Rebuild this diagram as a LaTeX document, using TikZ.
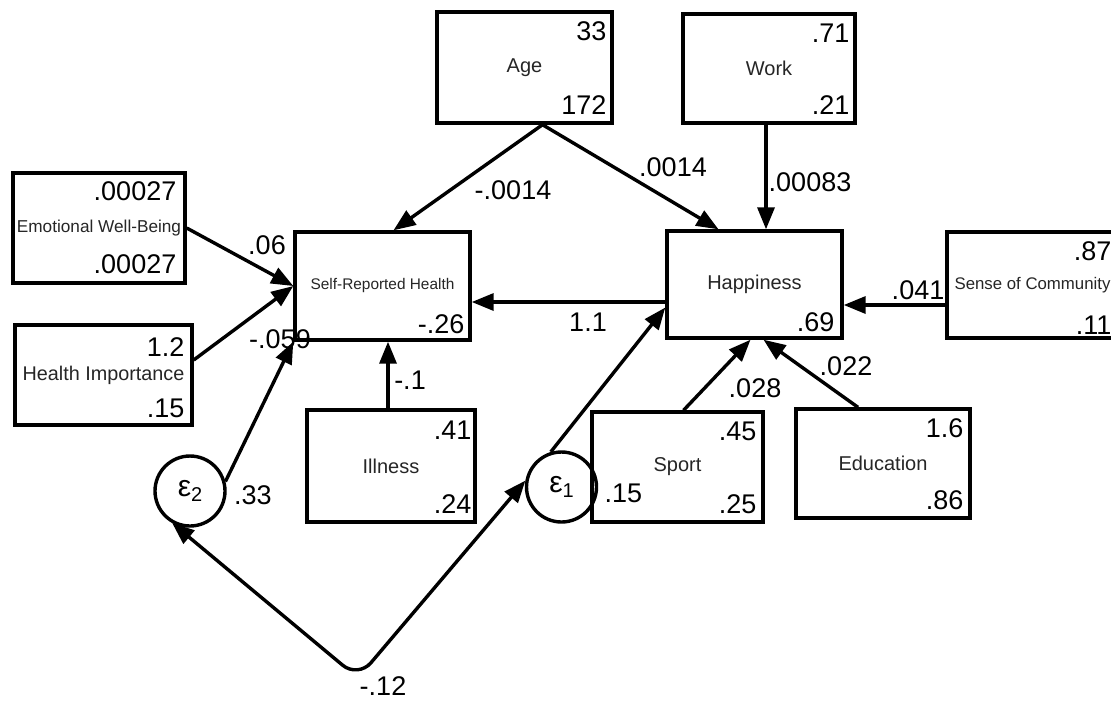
\documentclass[tikz,border=0pt]{standalone}
\usepackage{fontspec}
\setmainfont{Liberation Sans}
\usetikzlibrary{arrows.meta, calc}

\begin{document}
\begin{tikzpicture}[x = 0.5pt, y = -0.5pt,
    box/.style = {draw, rectangle, line width = 1.7pt, inner sep = 0pt, text = black!85, font = \fontsize{10}{12}\selectfont},
    err/.style = {draw, circle, line width = 1.7pt, minimum size = 35pt, inner sep = 0pt, font = \fontsize{15}{17}\selectfont},
    num/.style = {inner sep = 0pt, font = \fontsize{13.5}{16}\selectfont},
    arr/.style = {line width = 1.7pt, -{Triangle[length = 11pt, width = 8.5pt]}},
    both/.style = {line width = 1.7pt, rounded corners = 10pt, {Triangle[length = 11pt, width = 8.5pt]}-{Triangle[length = 11pt, width = 8.5pt]}}]
    \useasboundingbox (0,0) rectangle (1111,702);
    \clip (0,0) rectangle (1111,702);
    \fill[white] (0,0) rectangle (1111,702);

    \node[box, minimum width = 87.5pt, minimum height = 55.5pt] (age) at (524.5,67.5) {Age};
    \node[box, minimum width = 86pt, minimum height = 54.5pt] (work) at (769,68.5) {Work};
    \node[box, minimum width = 86pt, minimum height = 55pt, font = \fontsize{8.6}{10}\selectfont] (ewb) at (99,228) {Emotional Well-Being};
    \node[box, minimum width = 88.5pt, minimum height = 50pt, font = \fontsize{9.9}{12}\selectfont] (himp) at (103.5,375) {Health Importance};
    \node[box, minimum width = 87.5pt, minimum height = 54pt, font = \fontsize{7.7}{9}\selectfont] (srh) at (382.5,286) {Self-Reported Health};
    \node[box, minimum width = 87.5pt, minimum height = 53.5pt] (hap) at (754.5,284.5) {Happiness};
    \node[box, minimum width = 85.5pt, minimum height = 53pt, font = \fontsize{8.4}{10}\selectfont] (soc) at (1032.5,285) {Sense of Community};
    \node[box, minimum width = 84pt, minimum height = 56pt] (ill) at (391,466) {Illness};
    \node[box, minimum width = 85.5pt, minimum height = 55pt] (sport) at (677.5,467) {Sport};
    \node[box, minimum width = 87pt, minimum height = 54.5pt] (edu) at (883,463.5) {Education};
    \node[err] (e2) at (190,491) {ε\raisebox{-0.35ex}{\fontsize{10}{12}\selectfont 2}};
    \node[err] (e1) at (561.5,487) {ε\raisebox{-0.35ex}{\fontsize{10}{12}\selectfont 1}};

    \node[num, anchor = east] (age-m) at ($(age.north east)+(-7,21)$) {33};
    \node[num, anchor = east] (age-v) at ($(age.south east)+(-7,-20)$) {172};
    \node[num, anchor = east] (work-m) at ($(work.north east)+(-7,21)$) {.71};
    \node[num, anchor = east] (work-v) at ($(work.south east)+(-7,-20)$) {.21};
    \node[num, anchor = east] (ewb-m) at ($(ewb.north east)+(-10,20)$) {.00027};
    \node[num, anchor = east] (ewb-v) at ($(ewb.south east)+(-10,-21)$) {.00027};
    \node[num, anchor = east] (himp-m) at ($(himp.north east)+(-9,24)$) {1.2};
    \node[num, anchor = east] (himp-v) at ($(himp.south east)+(-9,-18)$) {.15};
    \node[num, anchor = east] (srh-c) at ($(srh.south east)+(-7,-18)$) {-.26};
    \node[num, anchor = east] (hap-c) at ($(hap.south east)+(-9,-18)$) {.69};
    \node[num, anchor = east] (soc-m) at ($(soc.north east)+(-8,21)$) {.87};
    \node[num, anchor = east] (soc-v) at ($(soc.south east)+(-8,-14)$) {.11};
    \node[num, anchor = east] (ill-m) at ($(ill.north east)+(-5,22)$) {.41};
    \node[num, anchor = east] (ill-v) at ($(ill.south east)+(-5,-20)$) {.24};
    \node[num, anchor = east] (sport-m) at ($(sport.north east)+(-8,21)$) {.45};
    \node[num, anchor = east] (sport-v) at ($(sport.south east)+(-8,-20)$) {.25};
    \node[num, anchor = east] (edu-m) at ($(edu.north east)+(-8,21)$) {1.6};
    \node[num, anchor = east] (edu-v) at ($(edu.south east)+(-8,-20)$) {.86};
    \node[num, anchor = west] (e2-v) at ($(e2.east)+(7,4)$) {.33};
    \node[num, anchor = west] (e1-v) at ($(e1.east)+(6,6)$) {.15};

    \coordinate (a) at ($(age.south)+(18,0)$);
    \coordinate (w) at ($(work.south)+(-3,0)$);
    \coordinate (i) at ($(ill.north)+(-3,0)$);
    \coordinate (h) at ($(hap.west)+(0,17.5)$);
    \coordinate (s) at ($(soc.west)+(0,20)$);
    \coordinate (cov) at (358,678);

    \draw[arr] (a) -- ($(srh.north)+(11,0)$);
    \draw[arr] (a) -- ($(hap.north)+(-36,0)$);
    \draw[arr] (w) -- (w |- hap.north);
    \draw[arr] (ewb.east) -- (srh.west);
    \draw[arr] ($(himp.east)+(0,-15)$) -- (srh.west);
    \draw[arr] (e2.15) -- (srh.south west);
    \draw[arr] (i) -- (i |- srh.south);
    \draw[arr] (h) -- (h -| srh.east);
    \draw[arr] (e1.107) -- ($(hap.west)+(0,23)$);
    \draw[arr] ($(sport.north)+(6,0)$) -- ($(hap.south)+(-4,0)$);
    \draw[arr] ($(edu.north)+(-25,0)$) -- ($(hap.south)+(9,0)$);
    \draw[arr] (s) -- (s -| hap.east);
    \draw[both] (e2.241) -- (cov) -- (e1.170);

    \node[num] (l-age-srh) at (513,190) {-.0014};
    \node[num] (l-age-hap) at (673,167) {.0014};
    \node[num] (l-work) at (810,182) {.00083};
    \node[num] (l-ewb) at (267,245) {.06};
    \node[num] (l-himp) at (280,339) {-.059};
    \node[num] (l-ill) at (410,380) {-.1};
    \node[num] (l-hap) at (588,322) {1.1};
    \node[num] (l-sport) at (755,388) {.028};
    \node[num] (l-edu) at (846,366) {.022};
    \node[num] (l-soc) at (918,290) {.041};
    \node[num] (l-cov) at (383,686) {-.12};
\end{tikzpicture}
\end{document}
